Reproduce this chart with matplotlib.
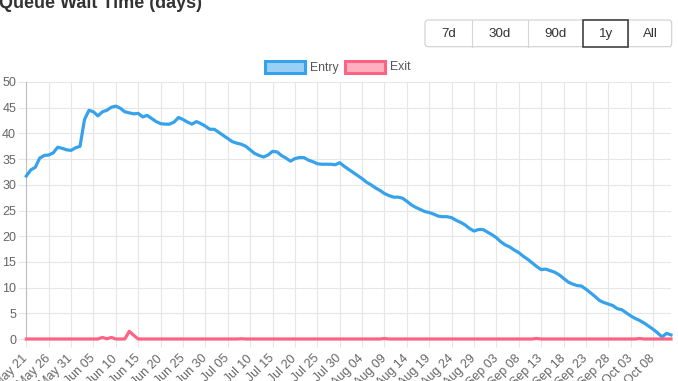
import matplotlib
matplotlib.use("Agg")
import matplotlib.pyplot as plt
from matplotlib.patches import Rectangle, FancyBboxPatch

plt.rcParams['font.family'] = ['Liberation Sans', 'DejaVu Sans']

# ---------------- data ----------------
entry = [31.7, 32.9, 33.4, 35.2, 35.7, 35.8, 36.2, 37.3, 37.1, 36.8,
         36.7, 37.2, 37.5, 42.7, 44.5, 44.2, 43.4, 44.2, 44.5, 45.1,
         45.3, 44.9, 44.2, 44.0, 43.8, 43.9, 43.2, 43.5, 42.9, 42.3,
         41.9, 41.8, 41.8, 42.2, 43.1, 42.7, 42.2, 41.8, 42.3, 41.9,
         41.4, 40.8, 40.8, 40.2, 39.6, 39.0, 38.4, 38.1, 37.9, 37.5,
         36.8, 36.1, 35.7, 35.4, 35.8, 36.5, 36.4, 35.7, 35.2, 34.6,
         35.1, 35.3, 35.3, 34.8, 34.5, 34.1, 34.0, 34.0, 34.0, 33.9,
         34.3, 33.6, 33.0, 32.4, 31.8, 31.2, 30.5, 30.0, 29.4, 28.9,
         28.3, 27.9, 27.6, 27.6, 27.4, 26.8, 26.1, 25.6, 25.2, 24.8,
         24.6, 24.3, 23.9, 23.8, 23.8, 23.6, 23.1, 22.7, 22.2, 21.5,
         21.0, 21.3, 21.3, 20.8, 20.3, 19.7, 18.9, 18.3, 17.9, 17.3,
         16.8, 16.1, 15.5, 14.8, 14.1, 13.5, 13.6, 13.3, 13.0, 12.5,
         11.8, 11.1, 10.7, 10.4, 10.3, 9.7, 9.0, 8.3, 7.5, 7.1,
         6.8, 6.5, 5.9, 5.7, 5.1, 4.5, 4.0, 3.6, 3.1, 2.5,
         1.9, 1.2, 0.4, 1.1, 0.8]

exit_ = [0.0] * 145
exit_bumps = {17: 0.3, 18: 0.05, 19: 0.3, 23: 1.5, 24: 0.7, 48: 0.05,
              80: 0.1, 114: 0.1, 137: 0.1}
for k, v in exit_bumps.items():
    exit_[k] = v

tick_labels = ["May 21", "May 26", "May 31", "Jun 05", "Jun 10", "Jun 15",
               "Jun 20", "Jun 25", "Jun 30", "Jul 05", "Jul 10", "Jul 15",
               "Jul 20", "Jul 25", "Jul 30", "Aug 04", "Aug 09", "Aug 14",
               "Aug 19", "Aug 24", "Aug 29", "Sep 03", "Sep 08", "Sep 13",
               "Sep 18", "Sep 23", "Sep 28", "Oct 03", "Oct 08"]
tick_step = 5

buttons = ["7d", "30d", "90d", "1y", "All"]
selected = "1y"

title = "Queue Wait Time (days)"
series_names = ["Entry", "Exit"]

# ---------------- figure ----------------
W, H = 678, 381
fig = plt.figure(figsize=(W / 100, H / 100), dpi=100)

blue = "#36a2eb"
blue_fill = "#9ad0f5"
red = "#ff6384"
red_fill = "#ffb1c1"
grid_c = "#e6e6e6"
txt_c = "#666666"

left_px, right_px, top_px, bot_px = 26.3, 671.0, 82.0, 339.0
ax = fig.add_axes([left_px / W, 1 - bot_px / H,
                   (right_px - left_px) / W, (bot_px - top_px) / H])

x = list(range(len(entry)))
ax.plot(x, entry, color=blue, lw=2.3, clip_on=False, zorder=3,
        solid_joinstyle='round')
ax.plot(x, exit_, color=red, lw=2.3, clip_on=False, zorder=4,
        solid_joinstyle='round')

ax.set_xlim(0, len(entry) - 1)
ax.set_ylim(0, 50)
ax.set_yticks(range(0, 51, 5))
ax.set_yticklabels([str(v) for v in range(0, 51, 5)])
xt = [i * tick_step for i in range(len(tick_labels))]
ax.set_xticks(xt)
ax.set_xticklabels(tick_labels, rotation=45, ha='right', va='center',
                   rotation_mode='anchor')

for s in ["top", "right", "bottom"]:
    ax.spines[s].set_visible(False)
ax.spines["left"].set_color("#bfbfbf")
ax.spines["left"].set_linewidth(0.8)

ax.grid(True, color=grid_c, lw=0.8, zorder=0)
ax.set_axisbelow(True)
ax.tick_params(axis='both', length=5.8, width=0.8, color=grid_c,
               labelsize=9, labelcolor=txt_c)
ax.tick_params(axis='y', pad=1.5)
ax.tick_params(axis='x', pad=7)

# ---------------- overlay (title, buttons, legend) ----------------
ov = fig.add_axes([0, 0, 1, 1], zorder=10)
ov.set_xlim(0, W)
ov.set_ylim(H, 0)
ov.axis('off')

ov.text(-1, 8, title, fontsize=13, fontweight='bold', color="#333333",
        ha='left', va='baseline')

# button group
edges = [425, 471.7, 528.3, 583.3, 628.3, 671.7]
btn_top, btn_bot = 20, 46.7
outer = FancyBboxPatch((edges[0], btn_top), edges[-1] - edges[0],
                       btn_bot - btn_top,
                       boxstyle="round,pad=0,rounding_size=3",
                       fc="white", ec="#cfcfcf", lw=0.8)
ov.add_patch(outer)
for i, b in enumerate(buttons):
    x0, x1 = edges[i], edges[i + 1]
    if i > 0:
        ov.plot([x0, x0], [btn_top, btn_bot], color="#d6d6d6", lw=0.8)
    if b == selected:
        ov.add_patch(Rectangle((x0, btn_top), x1 - x0, btn_bot - btn_top,
                               fc="white", ec="#333333", lw=1.1, zorder=3))
    ov.text((x0 + x1) / 2, (btn_top + btn_bot) / 2 + 0.5, b, fontsize=9.6,
            color="#333333", ha='center', va='center', zorder=4)

# legend
leg = [(265, blue_fill, blue, series_names[0]),
       (345, red_fill, red, series_names[1])]
for lx, fc, ec, name in leg:
    ov.add_patch(Rectangle((lx, 61), 40, 12, fc=fc, ec=ec, lw=2.2))
    ov.text(lx + 45, 67.5, name, fontsize=8.8, color="#555555",
            ha='left', va='center')

fig.savefig("out.png", dpi=100)
